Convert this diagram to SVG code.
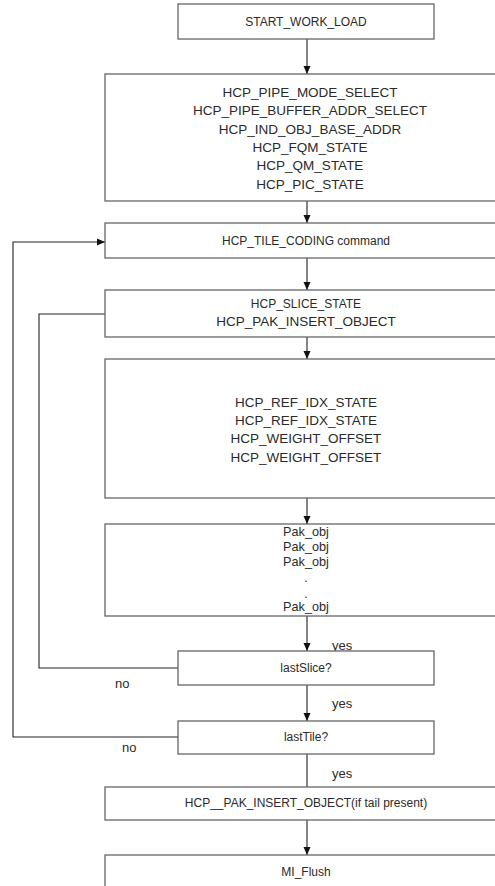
<svg xmlns="http://www.w3.org/2000/svg" width="495" height="886" viewBox="0 0 495 886">
<style>
.box{fill:#fff;stroke:#666;stroke-width:1.3}
.ln{fill:none;stroke:#222;stroke-width:1.1}
text{font-family:"Liberation Sans",Arial,sans-serif;fill:#2a2a2a;text-anchor:middle;dominant-baseline:central}
.s{font-size:12px}
.l{font-size:13.5px}
.p{font-size:12.7px}
.lbl{font-size:13px;text-anchor:start}
</style>
<defs>
<marker id="ah" markerWidth="8" markerHeight="8" refX="8" refY="4" orient="auto" markerUnits="userSpaceOnUse">
<path d="M0,0.5 L8,4 L0,7.5 Z" fill="#111"/>
</marker>
</defs>
<rect width="495" height="886" fill="#fff"/>
<g id="connectors">
<line class="ln" x1="307" y1="39" x2="307" y2="74" marker-end="url(#ah)"/>
<line class="ln" x1="307" y1="201" x2="307" y2="223" marker-end="url(#ah)"/>
<line class="ln" x1="307" y1="258" x2="307" y2="290" marker-end="url(#ah)"/>
<line class="ln" x1="307" y1="337" x2="307" y2="359" marker-end="url(#ah)"/>
<line class="ln" x1="307" y1="498" x2="307" y2="524" marker-end="url(#ah)"/>
<line class="ln" x1="307" y1="616" x2="307" y2="651" marker-end="url(#ah)"/>
<line class="ln" x1="307" y1="685" x2="307" y2="721" marker-end="url(#ah)"/>
<line class="ln" x1="307" y1="754" x2="307" y2="787"/>
<line class="ln" x1="307" y1="820" x2="307" y2="855" marker-end="url(#ah)"/>
<polyline class="ln" points="178,668 39,668 39,314 105,314"/>
<polyline class="ln" points="178,737 13,737 13,242 105,242" marker-end="url(#ah)"/>
<text class="lbl" x="332" y="645">yes</text>
<text class="lbl" x="115" y="683">no</text>
<text class="lbl" x="332" y="703">yes</text>
<text class="lbl" x="122" y="747">no</text>
<text class="lbl" x="332" y="773">yes</text>
</g>
<g id="start">
<rect class="box" x="178" y="4" width="256" height="35"/>
<text class="s" x="306" y="22">START_WORK_LOAD</text>
</g>
<g id="init">
<rect class="box" x="105" y="74" width="405" height="127"/>
<text class="l" x="310" y="92">HCP_PIPE_MODE_SELECT</text>
<text class="l" x="310" y="110.5">HCP_PIPE_BUFFER_ADDR_SELECT</text>
<text class="l" x="310" y="129">HCP_IND_OBJ_BASE_ADDR</text>
<text class="l" x="310" y="147">HCP_FQM_STATE</text>
<text class="l" x="310" y="165.5">HCP_QM_STATE</text>
<text class="l" x="310" y="184">HCP_PIC_STATE</text>
</g>
<g id="tile">
<rect class="box" x="105" y="223" width="405" height="35"/>
<text class="s" x="306" y="241">HCP_TILE_CODING command</text>
</g>
<g id="slice">
<rect class="box" x="105" y="290" width="405" height="47"/>
<text class="s" x="306" y="304">HCP_SLICE_STATE</text>
<text class="l" x="306" y="321">HCP_PAK_INSERT_OBJECT</text>
</g>
<g id="refidx">
<rect class="box" x="105" y="359" width="405" height="139"/>
<text class="l" x="306" y="402">HCP_REF_IDX_STATE</text>
<text class="l" x="306" y="420">HCP_REF_IDX_STATE</text>
<text class="l" x="306" y="438.5">HCP_WEIGHT_OFFSET</text>
<text class="l" x="306" y="457">HCP_WEIGHT_OFFSET</text>
</g>
<g id="pakobj">
<rect class="box" x="105" y="524" width="405" height="92"/>
<text class="p" x="306" y="532">Pak_obj</text>
<text class="p" x="306" y="547">Pak_obj</text>
<text class="p" x="306" y="562">Pak_obj</text>
<text class="p" x="306" y="578">.</text>
<text class="p" x="306" y="594">.</text>
<text class="p" x="306" y="607">Pak_obj</text>
</g>
<g id="lastslice">
<rect class="box" x="178" y="651" width="256" height="34"/>
<text class="s" x="306" y="668">lastSlice?</text>
</g>
<g id="lasttile">
<rect class="box" x="178" y="721" width="256" height="33"/>
<text class="s" x="306" y="737">lastTile?</text>
</g>
<g id="tail">
<rect class="box" x="105" y="787" width="405" height="33"/>
<text class="s" x="306" y="803">HCP__PAK_INSERT_OBJECT(if tail present)</text>
</g>
<g id="flush">
<rect class="box" x="105" y="855" width="405" height="40"/>
<text class="s" x="306" y="872">MI_Flush</text>
</g>
</svg>
